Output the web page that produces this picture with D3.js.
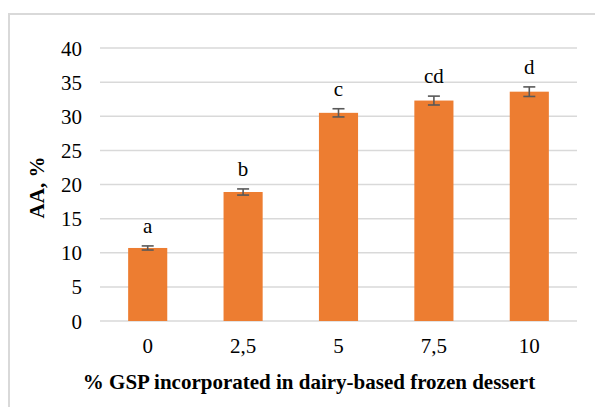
<!DOCTYPE html>
<html>
<head>
<meta charset="utf-8">
<script src="https://cdn.jsdelivr.net/npm/d3@7"></script>
<style>
  body { margin: 0; background: #fff; }
</style>
</head>
<body>
<script>
// Data
const categories = ['0', '2,5', '5', '7,5', '10'];
const values = [10.7, 18.9, 30.5, 32.3, 33.6];
const errors = [0.3, 0.45, 0.6, 0.65, 0.7];
const letters = ['a', 'b', 'c', 'cd', 'd'];
const yTicks = [0, 5, 10, 15, 20, 25, 30, 35, 40];

const width = 595;
const height = 407;
const margin = { top: 48, right: 20, bottom: 86, left: 100 };
const font = 'Liberation Serif, Times New Roman, serif';

const svg = d3.select('body')
    .append('svg')
    .attr('width', width)
    .attr('height', height)
    .attr('font-family', font);

// chart area border (left and top only visible)
svg.append('path')
    .attr('d', `M9,${height} V14 H${width}`)
    .attr('fill', 'none')
    .attr('stroke', '#d9d9d9')
    .attr('stroke-width', 2);

const xScale = d3.scaleBand()
    .domain(categories)
    .range([margin.left, width - margin.right + 2])
    .paddingInner(0.59)
    .paddingOuter(0.295);

const yScale = d3.scaleLinear()
    .domain([0, 40])
    .range([height - margin.bottom, margin.top]);

// gridlines
svg.append('g')
    .selectAll('line')
    .data(yTicks)
    .enter().append('line')
    .attr('x1', margin.left)
    .attr('x2', width - margin.right + 2)
    .attr('y1', d => yScale(d))
    .attr('y2', d => yScale(d))
    .attr('stroke', '#d9d9d9')
    .attr('stroke-width', 1.5);

// y tick labels
svg.append('g')
    .selectAll('text')
    .data(yTicks)
    .enter().append('text')
    .attr('x', 82)
    .attr('y', d => yScale(d) + 7.5)
    .attr('text-anchor', 'end')
    .attr('font-size', 21)
    .attr('fill', '#000')
    .text(d => d);

// bars
svg.append('g')
    .selectAll('rect')
    .data(values)
    .enter().append('rect')
    .attr('x', (d, i) => xScale(categories[i]))
    .attr('y', d => yScale(d))
    .attr('width', xScale.bandwidth())
    .attr('height', d => yScale(0) - yScale(d))
    .attr('fill', '#ed7d31');

// error bars
const eb = svg.append('g')
    .attr('stroke', '#595959')
    .attr('stroke-width', 1.6);

values.forEach((v, i) => {
    const cx = xScale(categories[i]) + xScale.bandwidth() / 2;
    const lo = yScale(v - errors[i]);
    const hi = yScale(v + errors[i]);
    eb.append('line').attr('x1', cx).attr('x2', cx).attr('y1', lo).attr('y2', hi);
    eb.append('line').attr('x1', cx - 6).attr('x2', cx + 6).attr('y1', lo).attr('y2', lo);
    eb.append('line').attr('x1', cx - 6).attr('x2', cx + 6).attr('y1', hi).attr('y2', hi);
});

// significance letters
svg.append('g')
    .selectAll('text')
    .data(letters)
    .enter().append('text')
    .attr('x', (d, i) => xScale(categories[i]) + xScale.bandwidth() / 2)
    .attr('y', (d, i) => yScale(values[i] + errors[i]) - 13)
    .attr('text-anchor', 'middle')
    .attr('font-size', 21)
    .attr('fill', '#000')
    .text(d => d);

// x tick labels
svg.append('g')
    .selectAll('text')
    .data(categories)
    .enter().append('text')
    .attr('x', d => xScale(d) + xScale.bandwidth() / 2)
    .attr('y', 353)
    .attr('text-anchor', 'middle')
    .attr('font-size', 21)
    .attr('fill', '#000')
    .text(d => d);

// axis titles
svg.append('text')
    .attr('x', 309)
    .attr('y', 389)
    .attr('text-anchor', 'middle')
    .attr('font-size', 21)
    .attr('font-weight', 'bold')
    .text('% GSP incorporated in dairy-based frozen dessert');

svg.append('text')
    .attr('transform', `translate(44,${(yScale(0) + yScale(40)) / 2 + 3}) rotate(-90)`)
    .attr('text-anchor', 'middle')
    .attr('font-size', 21)
    .attr('font-weight', 'bold')
    .text('AA, %');
</script>
</body>
</html>
